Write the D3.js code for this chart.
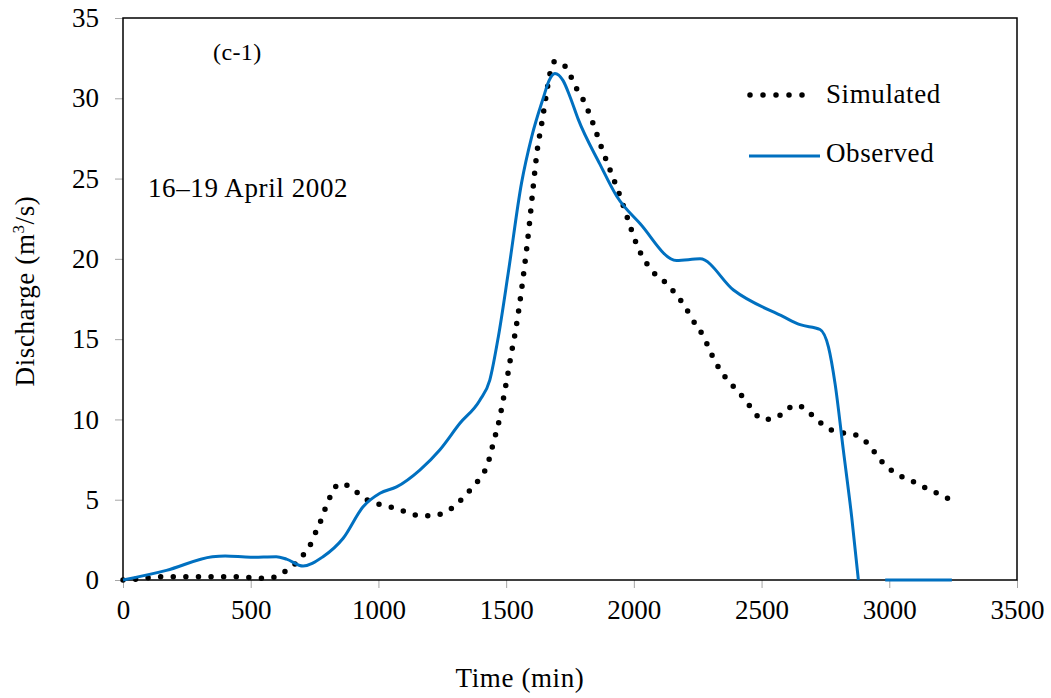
<!DOCTYPE html>
<html>
<head>
<meta charset="utf-8">
<script src="https://cdn.jsdelivr.net/npm/d3@7"></script>
<style>
  body { margin: 0; background: #fff; }
  text { font-family: "Liberation Serif", "Times New Roman", serif; fill: #000; }
  .lbl { font-size: 27px; letter-spacing: 0.6px; }
</style>
</head>
<body>
<div id="chart"></div>
<script>
// simulated discharge (time in min, discharge in m3/s)
const simTime = [0, 50, 150, 300, 450, 550, 600, 640, 680, 712, 740, 760, 780, 795, 815, 846, 891, 927, 973, 1020,
  1070, 1115, 1162, 1210, 1257, 1302, 1336, 1370, 1400, 1425, 1440, 1452, 1465, 1476, 1486, 1495, 1504, 1512, 1520, 1530,
  1567, 1590, 1606, 1622, 1639, 1656, 1671, 1691, 1730, 1776, 1802, 1841, 1874, 1910, 1946, 1978, 2011, 2059, 2132, 2193,
  2246, 2272, 2300, 2337, 2370, 2410, 2442, 2468, 2507, 2557, 2596, 2638, 2681, 2716, 2755, 2801, 2853, 2896, 2931, 2964,
  2999, 3040, 3085, 3127, 3175, 3240];
const simValue = [0, 0.05, 0.2, 0.2, 0.2, 0.1, 0.2, 0.6, 1.1, 1.7, 2.4, 3.2, 3.9, 4.6, 5.3, 6.0, 5.8, 5.3, 4.85, 4.65,
  4.45, 4.2, 4.0, 4.0, 4.2, 4.65, 5.2, 5.8, 6.4, 7.1, 7.9, 8.7, 9.4, 10.2, 11.0, 11.8, 12.6, 13.3, 14.1, 14.9,
  18.9, 22.0, 24.5, 26.8, 28.4, 30.1, 31.5, 32.3, 32.0, 30.6, 29.9, 28.4, 26.9, 25.4, 23.9, 22.4, 20.9, 19.5, 18.4, 17.2,
  15.8, 15.2, 14.2, 13.1, 12.4, 11.7, 11.1, 10.5, 10.0, 10.1, 10.6, 10.9, 10.5, 10.0, 9.5, 9.2, 9.1, 8.8, 8.2, 7.5,
  6.95, 6.5, 6.2, 5.85, 5.5, 5.0];

// observed discharge (null = gap in the line)
const obsTime = [0, 170, 350, 400, 500, 600, 640, 705, 783, 862, 940, 1006, 1071, 1162, 1240, 1319, 1397, 1436,
  1470, 1508, 1560, 1600, 1645, 1668, 1691, 1723, 1750, 1782, 1867, 1933, 2024, 2167, 2259, 2390, 2585, 2651, 2729, 2762,
  2788, 2820, 2853, 2879, 2930, 2984, 3245];
const obsValue = [0, 0.6, 1.45, 1.5, 1.42, 1.45, 1.3, 0.87, 1.45, 2.6, 4.56, 5.4, 5.8, 6.85, 8.1, 9.76, 11.2, 12.45,
  15.2, 19.1, 24.7, 27.6, 30.0, 31.1, 31.55, 31.1, 30.1, 28.7, 25.9, 23.9, 22.2, 19.9, 20.0, 18.06, 16.4, 15.9, 15.6, 14.5,
  12.2, 8.1, 3.9, 0, null, 0, 0];

const xTicks = [0, 500, 1000, 1500, 2000, 2500, 3000, 3500];
const yTicks = [0, 5, 10, 15, 20, 25, 30, 35];

const width = 1051, height = 698;
const margin = { top: 18, right: 34, bottom: 118, left: 123 };
const innerW = width - margin.left - margin.right;
const innerH = height - margin.top - margin.bottom;

const svg = d3.select('#chart').append('svg')
  .attr('width', width)
  .attr('height', height);

const g = svg.append('g').attr('transform', `translate(${margin.left},${margin.top})`);

const x = d3.scaleLinear().domain([0, 3500]).range([0, innerW]);
const y = d3.scaleLinear().domain([0, 35]).range([innerH, 0]);

// axes with grey outside ticks
const xAxis = g.append('g')
  .attr('transform', `translate(0,${innerH})`)
  .call(d3.axisBottom(x).tickValues(xTicks).tickFormat(d3.format('d')).tickSize(8).tickPadding(12));
const yAxis = g.append('g')
  .call(d3.axisLeft(y).tickValues(yTicks).tickFormat(d3.format('d')).tickSize(8).tickPadding(16));

[xAxis, yAxis].forEach(a => {
  a.select('.domain').remove();
  a.selectAll('.tick line').attr('stroke', '#a6a6a6').attr('stroke-width', 1);
  a.selectAll('.tick text')
    .style('font-family', '"Liberation Serif", serif')
    .style('font-size', '27px')
    .attr('fill', '#000');
});

// frame
g.append('rect')
  .attr('width', innerW)
  .attr('height', innerH)
  .attr('fill', 'none')
  .attr('stroke', '#000')
  .attr('stroke-width', 1.5);

const simData = simTime.map((t, i) => ({ t: t, v: simValue[i] }));
const obsData = obsTime.map((t, i) => ({ t: t, v: obsValue[i] }));

const line = d3.line()
  .defined(d => d.v !== null)
  .x(d => x(d.t))
  .y(d => y(d.v))
  .curve(d3.curveMonotoneX);

g.append('path')
  .datum(simData)
  .attr('d', line)
  .attr('fill', 'none')
  .attr('stroke', '#000')
  .attr('stroke-width', 5.5)
  .attr('stroke-linecap', 'round')
  .attr('stroke-dasharray', '0 12.6');

g.append('path')
  .datum(obsData)
  .attr('d', line)
  .attr('fill', 'none')
  .attr('stroke', '#0070C0')
  .attr('stroke-width', 3);

// legend
svg.append('line')
  .attr('x1', 750).attr('x2', 815).attr('y1', 95).attr('y2', 95)
  .attr('stroke', '#000').attr('stroke-width', 5.5)
  .attr('stroke-linecap', 'round').attr('stroke-dasharray', '0 13');
svg.append('text').attr('class', 'lbl').attr('x', 826).attr('y', 103).text('Simulated');

svg.append('line')
  .attr('x1', 749).attr('x2', 820).attr('y1', 156).attr('y2', 156)
  .attr('stroke', '#0070C0').attr('stroke-width', 3);
svg.append('text').attr('class', 'lbl').attr('x', 826).attr('y', 162).text('Observed');

// annotations
svg.append('text').attr('x', 213).attr('y', 60).style('font-size', '24px').style('letter-spacing', '0.4px').text('(c-1)');
svg.append('text').attr('class', 'lbl').attr('x', 148).attr('y', 197).text('16–19 April 2002');

// axis titles
svg.append('text')
  .attr('class', 'lbl')
  .attr('x', 520).attr('y', 687)
  .attr('text-anchor', 'middle')
  .text('Time (min)');

const yTitle = svg.append('text')
  .attr('class', 'lbl')
  .attr('transform', 'translate(34,291) rotate(-90)')
  .attr('text-anchor', 'middle');
yTitle.append('tspan').text('Discharge (m');
yTitle.append('tspan').attr('dy', -10).style('font-size', '17px').text('3');
yTitle.append('tspan').attr('dy', 10).text('/s)');
</script>
</body>
</html>
